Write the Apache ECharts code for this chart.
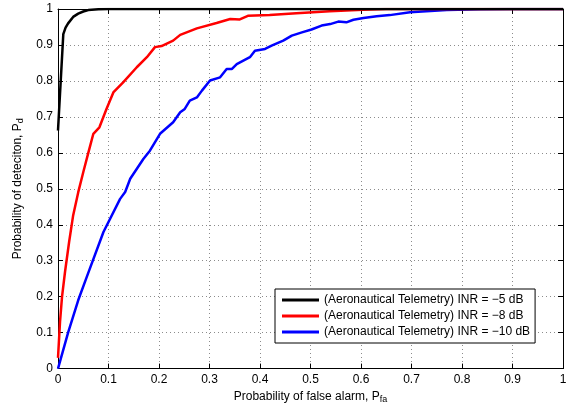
<!DOCTYPE html>
<html>
<head>
<meta charset="utf-8">
<script src="https://cdn.jsdelivr.net/npm/echarts@6/dist/echarts.min.js"></script>
<style>html,body{margin:0;padding:0;background:#fff}#c{width:570px;height:409px}</style>
</head>
<body>
<div id="c"></div>
<script>
const seriesNames = [
  '(Aeronautical Telemetry) INR = \u22125 dB',
  '(Aeronautical Telemetry) INR = \u22128 dB',
  '(Aeronautical Telemetry) INR = \u221210 dB'
];
const seriesColors = ['#000000', '#ff0000', '#0000ff'];
const xTicks = [0, 0.1, 0.2, 0.3, 0.4, 0.5, 0.6, 0.7, 0.8, 0.9, 1];
const yTicks = [0, 0.1, 0.2, 0.3, 0.4, 0.5, 0.6, 0.7, 0.8, 0.9, 1];

const pfa5 = [0, 0.0105, 0.015, 0.02, 0.03, 0.04, 0.05, 0.06, 0.08, 0.1, 1];
const pd5  = [0.662, 0.93, 0.948, 0.96, 0.978, 0.987, 0.993, 0.997, 0.999, 1, 1];

const pfa8 = [0, 0.004, 0.008, 0.014, 0.022, 0.03, 0.04, 0.05, 0.06, 0.07, 0.082, 0.096, 0.11, 0.129, 0.156, 0.176, 0.192, 0.205, 0.228, 0.242, 0.275, 0.314, 0.341, 0.36, 0.376, 0.419, 0.472, 0.538, 0.604, 0.65, 1];
const pd8  = [0.03, 0.13, 0.2, 0.27, 0.352, 0.426, 0.49, 0.546, 0.6, 0.653, 0.671, 0.722, 0.769, 0.796, 0.838, 0.866, 0.894, 0.897, 0.912, 0.928, 0.946, 0.961, 0.972, 0.971, 0.981, 0.983, 0.988, 0.994, 0.998, 1, 1];

const pfa10 = [0, 0.02, 0.04, 0.057, 0.09, 0.123, 0.133, 0.143, 0.169, 0.182, 0.202, 0.228, 0.242, 0.251, 0.261, 0.275, 0.285, 0.301, 0.321, 0.334, 0.344, 0.354, 0.38, 0.39, 0.41, 0.423, 0.446, 0.463, 0.483, 0.502, 0.522, 0.539, 0.555, 0.571, 0.585, 0.605, 0.631, 0.657, 0.697, 0.77, 0.836, 0.9, 1];
const pd10  = [0, 0.1, 0.19, 0.255, 0.38, 0.472, 0.491, 0.528, 0.583, 0.606, 0.653, 0.685, 0.713, 0.722, 0.745, 0.754, 0.773, 0.801, 0.81, 0.833, 0.833, 0.847, 0.866, 0.884, 0.889, 0.898, 0.912, 0.926, 0.935, 0.943, 0.954, 0.958, 0.965, 0.963, 0.97, 0.975, 0.98, 0.983, 0.991, 0.997, 0.999, 1, 1];

const xs = [pfa5, pfa8, pfa10];
const ys = [pd5, pd8, pd10];

const FONT = 'Liberation Sans, Arial, Helvetica, sans-serif';
const chart = echarts.init(document.getElementById('c'), null, {renderer: 'canvas'});

const gridLine = {show: true, lineStyle: {color: '#8c8c8c', type: [1, 3], width: 1}};
const tickIn = {show: true, inside: true, length: 5, lineStyle: {color: '#000', width: 1}};
const axisLineBlack = {show: true, onZero: false, lineStyle: {color: '#000', width: 1}};

function baseAxis(extra) {
  return Object.assign({
    type: 'value', min: 0, max: 1, interval: 0.1,
    axisLine: axisLineBlack, axisTick: tickIn
  }, extra);
}

const option = {
  animation: false,
  backgroundColor: '#fff',
  grid: {left: 58, right: 7, top: 9, bottom: 39, containLabel: false},
  xAxis: [
    baseAxis({
      position: 'bottom',
      splitLine: gridLine,
      axisLabel: {show: true, margin: 5, color: '#000', fontFamily: FONT, fontSize: 12,
        formatter: v => String(xTicks[Math.round(v * 10)])},
      name: '{m|Probability of false alarm, P}{s|fa}',
      nameLocation: 'middle', nameGap: 17,
      nameTextStyle: {rich: {
        m: {fontFamily: FONT, fontSize: 12, color: '#000'},
        s: {fontFamily: FONT, fontSize: 9, color: '#000', verticalAlign: 'bottom', padding: [6, 0, 0, 0]}
      }}
    }),
    baseAxis({position: 'top', splitLine: {show: false}, axisLabel: {show: false}})
  ],
  yAxis: [
    baseAxis({
      position: 'left',
      splitLine: gridLine,
      axisLabel: {show: true, margin: 5, color: '#000', fontFamily: FONT, fontSize: 12,
        formatter: v => String(yTicks[Math.round(v * 10)])},
      name: '{m|Probability of deteciton, P}{s|d}',
      nameLocation: 'middle', nameGap: 32,
      nameTextStyle: {rich: {
        m: {fontFamily: FONT, fontSize: 12, color: '#000'},
        s: {fontFamily: FONT, fontSize: 9, color: '#000', verticalAlign: 'bottom', padding: [6, 0, 0, 0]}
      }}
    }),
    baseAxis({position: 'right', splitLine: {show: false}, axisLabel: {show: false}})
  ],
  legend: {
    show: true, orient: 'vertical', left: 275, top: 289,
    backgroundColor: '#fff', borderColor: '#000', borderWidth: 1,
    padding: [3, 5, 3, 7], itemGap: 0, itemWidth: 37, itemHeight: 3,
    icon: 'rect',
    textStyle: {fontFamily: FONT, fontSize: 12, color: '#000', lineHeight: 16},
    data: seriesNames
  },
  series: seriesNames.map((name, i) => ({
    name: name, type: 'line', showSymbol: false, symbol: 'none',
    color: seriesColors[i],
    lineStyle: {color: seriesColors[i], width: 2.5},
    clip: true, z: 3 - i + 2,
    data: xs[i].map((x, j) => [x, ys[i][j]])
  }))
};
chart.setOption(option);
</script>
</body>
</html>
